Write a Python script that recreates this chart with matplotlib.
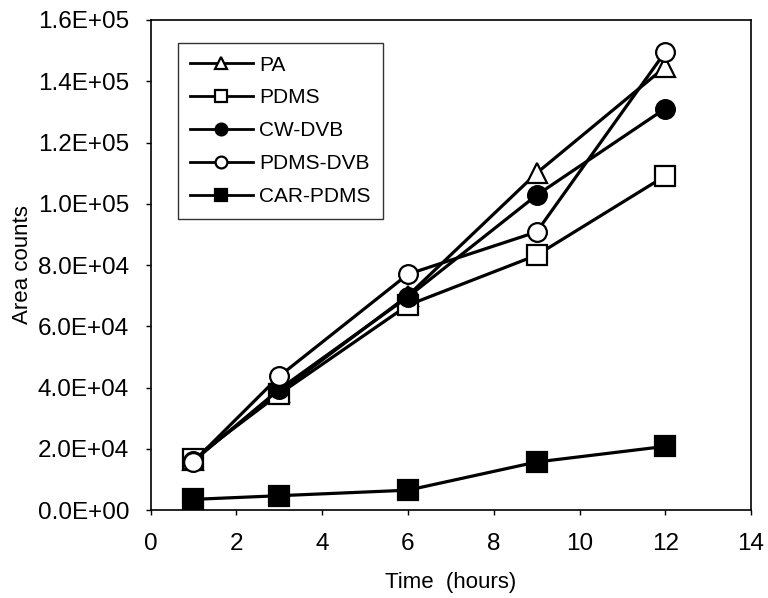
import matplotlib
matplotlib.use("Agg")
import matplotlib.pyplot as plt
from matplotlib.ticker import FuncFormatter

plt.rcParams['font.family'] = ['Liberation Sans', 'DejaVu Sans']

# Extraction time (hours)
hours = [1, 3, 6, 9, 12]

# Peak area counts per fibre coating
pa = [16500, 38500, 70000, 110000, 144700]
pdms = [16800, 37900, 66900, 83200, 109100]
cw_dvb = [16000, 39400, 69600, 102800, 131100]
pdms_dvb = [15800, 43700, 77000, 90800, 149600]
car_pdms = [3500, 4700, 6500, 15700, 20800]

series = [
    ("PA", pa, "^", "white", 14),
    ("PDMS", pdms, "s", "white", 14.5),
    ("CW-DVB", cw_dvb, "o", "black", 13.5),
    ("PDMS-DVB", pdms_dvb, "o", "white", 13.5),
    ("CAR-PDMS", car_pdms, "s", "black", 15),
]

fig = plt.figure(figsize=(7.68, 5.98), dpi=100)
ax = fig.add_axes([0.196, 0.147, 0.782, 0.8196])

for name, vals, mk, fc, ms in series:
    ax.plot(hours, vals, color="black", lw=2.3, marker=mk, ms=ms,
            mfc=fc, mec="black", mew=1.6, label=name)

ax.set_xlim(0, 14)
ax.set_ylim(0, 160000)
ax.set_xticks(range(0, 15, 2))
ax.set_yticks(range(0, 160001, 20000))
ax.yaxis.set_major_formatter(FuncFormatter(lambda v, p: f"{v:.1E}"))

ax.tick_params(axis="both", direction="out", length=3.5, width=1, labelsize=17.5,
               color="black")
ax.tick_params(axis="x", pad=13)
ax.tick_params(axis="y", pad=12)
for s in ax.spines.values():
    s.set_linewidth(1.2)
    s.set_color("black")

ax.set_xlabel("Time  (hours)", fontsize=16, labelpad=12)
ax.set_ylabel("Area counts", fontsize=16, labelpad=3)

leg = ax.legend(loc="upper left", bbox_to_anchor=(0.045, 0.953), fontsize=15,
                frameon=True, fancybox=False, edgecolor="black",
                handlelength=3.0, handletextpad=0.3, labelspacing=0.67,
                borderpad=0.6, borderaxespad=0)
leg.get_frame().set_linewidth(1.0)
for h in leg.legend_handles:
    h.set_markersize(8.5)
    h.set_linewidth(2.0)

fig.savefig("out.png", dpi=100)
